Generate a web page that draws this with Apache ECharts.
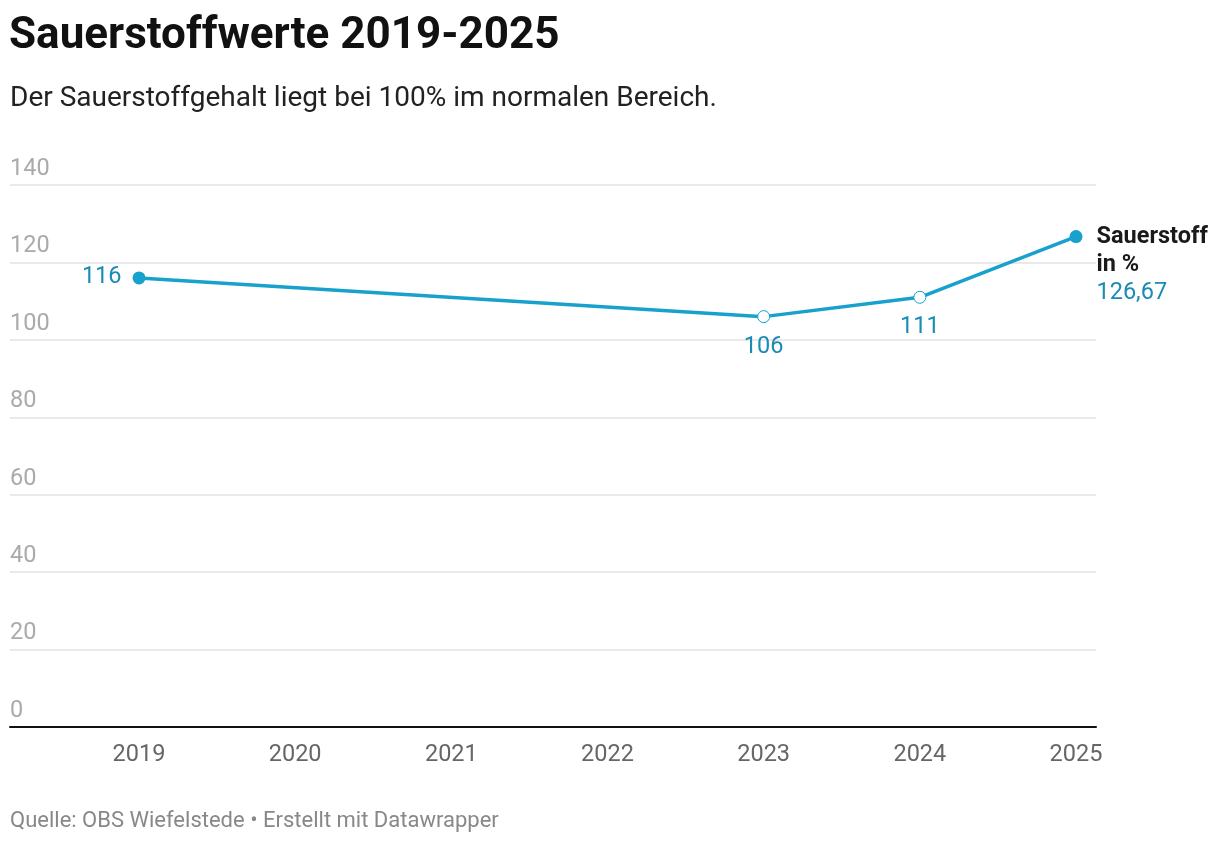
<!DOCTYPE html>
<html>
<head>
<meta charset="utf-8">
<script src="https://cdn.jsdelivr.net/npm/echarts@6/dist/echarts.min.js"></script>
<style>
html,body{margin:0;padding:0;background:#fff;}
#c{width:1220px;height:844px;}
</style>
</head>
<body>
<div id="c"></div>
<script>
const years = [2019, 2023, 2024, 2025];
const values = [116, 106, 111, 126.67];
const valueLabels = ['116', '106', '111', '126,67'];
const xTicks = [2019, 2020, 2021, 2022, 2023, 2024, 2025];
const yTicks = [0, 20, 40, 60, 80, 100, 120, 140];
const seriesName = 'Sauerstoff\nin %';

const blue = '#18a1cd';
const labelBlue = '#1a8bb5';
const font = 'Roboto, "Open Sans", sans-serif';

const pointStyles = [
  {size: 13, fill: blue, border: blue, bw: 0, pos: 'left', dist: 11, off: [0, -1]},
  {size: 12, fill: '#fff', border: blue, bw: 1, pos: 'bottom', dist: 12, off: [0, 0]},
  {size: 12, fill: '#fff', border: blue, bw: 1, pos: 'bottom', dist: 11, off: [0, 0]},
  {size: 13, fill: blue, border: blue, bw: 0, pos: 'right', dist: 14, off: [0, 29]}
];

const data = years.map((y, i) => {
  const s = pointStyles[i];
  const isLast = i === years.length - 1;
  return {
    value: [y, values[i]],
    symbol: 'circle',
    symbolSize: s.size,
    itemStyle: {color: s.fill, borderColor: s.border, borderWidth: s.bw},
    label: {
      show: true,
      position: s.pos,
      distance: s.dist,
      offset: s.off,
      formatter: isLast
        ? seriesName.split('\n').map(t => '{b|' + t + '}').join('\n') + '\n{v|' + valueLabels[i] + '}'
        : valueLabels[i],
      color: labelBlue,
      fontSize: 23.5,
      fontFamily: font,
      rich: {
        b: {fontSize: 23.5, fontWeight: 'bold', color: '#1a1a1a', fontFamily: font, lineHeight: 28},
        v: {fontSize: 23.5, color: labelBlue, fontFamily: font, lineHeight: 28}
      }
    }
  };
});

const chart = echarts.init(document.getElementById('c'), null, {renderer: 'canvas'});
chart.setOption({
  backgroundColor: '#fff',
  animation: false,
  title: [
    {text: 'Sauerstoffwerte 2019-2025', left: 9, top: 15, padding: 0,
     textStyle: {fontSize: 44, fontWeight: 'bold', color: '#111', fontFamily: font}},
    {text: 'Der Sauerstoffgehalt liegt bei 100% im normalen Bereich.', left: 10, top: 85, padding: 0,
     textStyle: {fontSize: 28, fontWeight: 'normal', color: '#222', fontFamily: font}},
    {text: 'Quelle: OBS Wiefelstede • Erstellt mit Datawrapper', left: 10, top: 810, padding: 0,
     textStyle: {fontSize: 22, fontWeight: 'normal', color: '#888', fontFamily: font}}
  ],
  grid: [
    {left: 10, right: 124, top: 185, bottom: 117, containLabel: false},
    {left: 139, right: 144, top: 185, bottom: 117, containLabel: false}
  ],
  xAxis: [
    {type: 'value', gridIndex: 0, min: 0, max: 1, show: true,
     axisLine: {show: true, onZero: false, lineStyle: {color: '#111', width: 2}},
     axisTick: {show: false}, axisLabel: {show: false}, splitLine: {show: false}},
    {type: 'value', gridIndex: 1, min: xTicks[0], max: xTicks[xTicks.length - 1], interval: 1,
     axisLine: {show: false}, axisTick: {show: false}, splitLine: {show: false},
     axisLabel: {show: true, margin: 16, fontSize: 23.5, color: '#666', fontFamily: font,
       formatter: v => String(v)}}
  ],
  yAxis: [
    {type: 'value', gridIndex: 0, min: yTicks[0], max: yTicks[yTicks.length - 1], interval: 20,
     axisLine: {show: false}, axisTick: {show: false},
     splitLine: {show: true, lineStyle: {color: '#e2e2e2', width: 1.5}},
     axisLabel: {show: true, inside: true, margin: 0, verticalAlign: 'bottom', padding: [0, 0, 4, 0],
       fontSize: 23.5, color: '#aaa', fontFamily: font,
       formatter: v => String(v)}},
    {type: 'value', gridIndex: 1, min: yTicks[0], max: yTicks[yTicks.length - 1], interval: 20,
     show: false}
  ],
  series: [{
    type: 'line',
    xAxisIndex: 1,
    yAxisIndex: 1,
    data: data,
    lineStyle: {color: blue, width: 3.5},
    showAllSymbol: true,
    z: 5
  }]
});
</script>
</body>
</html>
